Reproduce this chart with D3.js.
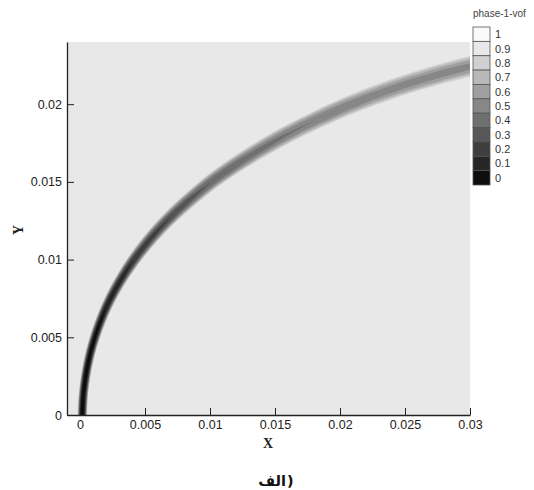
<!DOCTYPE html>
<html>
<head>
<meta charset="utf-8">
<script src="https://cdn.jsdelivr.net/npm/d3@7/dist/d3.min.js"></script>
<style>
body { margin: 0; background: #fff; }
</style>
</head>
<body>
<div id="chart"></div>
<script>
// interface centre line (m)
var curveX = [0.00018, 0.00023, 0.00035, 0.00054, 0.0008, 0.00114, 0.00156, 0.00206, 0.00266, 0.00336,
              0.00416, 0.00508, 0.00612, 0.0073, 0.00864, 0.0101, 0.0118, 0.0137, 0.0158, 0.0182,
              0.0209, 0.0241, 0.0280, 0.0306];
var curveY = [0, 0.001, 0.002, 0.003, 0.004, 0.005, 0.006, 0.007, 0.008, 0.009,
              0.010, 0.011, 0.012, 0.013, 0.014, 0.015, 0.016, 0.017, 0.018, 0.019,
              0.020, 0.021, 0.022, 0.02255];
// lowest vof in the middle of the band, and band thickness (m)
var coreVof = [0, 0, 0, 0.01, 0.03, 0.05, 0.07, 0.10, 0.13, 0.16,
               0.20, 0.24, 0.28, 0.32, 0.36, 0.40, 0.43, 0.46, 0.49, 0.51,
               0.53, 0.55, 0.56, 0.57];
var bandWidth = [0.0007, 0.0007, 0.0007, 0.00071, 0.00073, 0.00075, 0.00078, 0.00081, 0.00085, 0.0009,
                 0.00095, 0.001, 0.00105, 0.0011, 0.00115, 0.0012, 0.00125, 0.0013, 0.00135, 0.0014,
                 0.00146, 0.00152, 0.00158, 0.00162];

var xTicks = [0, 0.005, 0.01, 0.015, 0.02, 0.025, 0.03];
var yTicks = [0, 0.005, 0.01, 0.015, 0.02];
var levels = [0, 0.1, 0.2, 0.3, 0.4, 0.5, 0.6, 0.7, 0.8, 0.9, 1];
var legendLabels = ["1", "0.9", "0.8", "0.7", "0.6", "0.5", "0.4", "0.3", "0.2", "0.1", "0"];
var legendTitle = "phase-1-vof";
var caption = "الف)";

class VofPlotBuilder {
	constructor(sel){
		this.svg = d3.select(sel).append("svg")
					.attr("width", 534)
					.attr("height", 490);
		this.left = 67;
		this.right = 470;
		this.top = 42;
		this.bottom = 415;
		this.profilePower = 2;
		this.x = d3.scaleLinear().domain([-0.001, 0.03]).range([this.left, this.right]);
		this.y = d3.scaleLinear().domain([0, 0.024]).range([this.bottom, this.top]);
		this.shade = d3.scaleLinear().domain([0, 0.9]).range(["#0e0e0e", "#e8e8e8"]).clamp(true);
	}

	drawField(){
		var defs = this.svg.append("defs");
		defs.append("clipPath").attr("id", "plotClip")
			.append("rect")
			.attr("x", this.left).attr("y", this.top)
			.attr("width", this.right - this.left).attr("height", this.bottom - this.top);
		defs.append("filter").attr("id", "soft")
			.attr("x", "-5%").attr("y", "-5%").attr("width", "110%").attr("height", "110%")
			.append("feGaussianBlur").attr("stdDeviation", 0.7);

		this.svg.append("rect")
			.attr("x", this.left).attr("y", this.top)
			.attr("width", this.right - this.left).attr("height", this.bottom - this.top)
			.attr("fill", this.shade(0.9));

		var g = this.svg.append("g").attr("clip-path", "url(#plotClip)")
					.append("g").attr("filter", "url(#soft)");

		var pts = curveX.map((d, i) => [this.x(d), this.y(curveY[i])]);
		var pxPerM = ((this.x(0.001) - this.x(0)) + (this.y(0) - this.y(0.001))) / 2 / 0.001;
		var normals = pts.map((p, i) => {
			var a = pts[Math.max(i - 1, 0)], b = pts[Math.min(i + 1, pts.length - 1)];
			var dx = b[0] - a[0], dy = b[1] - a[1], len = Math.hypot(dx, dy);
			return [-dy / len, dx / len];
		});
		var line = d3.line().curve(d3.curveCatmullRom);

		// paint light levels first, darker ones on top
		for(let k = levels.length - 3; k >= 0; --k){
			var upper = levels[k + 1];
			var half = pts.map((p, i) => {
				var c = coreVof[i];
				if(upper <= c) return 0;
				var t = Math.pow((upper - c) / (1 - c), 1 / this.profilePower);
				return t * bandWidth[i] * pxPerM / 2;
			});
			var side1 = pts.map((p, i) => [p[0] + normals[i][0] * half[i], p[1] + normals[i][1] * half[i]]);
			var side2 = pts.map((p, i) => [p[0] - normals[i][0] * half[i], p[1] - normals[i][1] * half[i]]).reverse();
			g.append("path")
				.attr("d", line(side1) + line(side2).replace(/^M/, "L") + "Z")
				.attr("fill", this.shade(levels[k]));
		}
	}

	drawAxes(){
		var font = "'Liberation Sans', Arial, sans-serif";
		var minorX = d3.range(-1, 31).map(i => i / 1000);
		var minorY = d3.range(0, 25).map(i => i / 1000);

		var gx = this.svg.append("g").attr("transform", "translate(0," + this.bottom + ")");
		gx.call(d3.axisBottom(this.x).tickValues(minorX).tickSize(-3.5).tickSizeOuter(0).tickFormat(""));
		gx.call(d3.axisBottom(this.x).tickValues(xTicks).tickSize(-7).tickSizeOuter(0)
				.tickPadding(5).tickFormat(d => d));

		var gy = this.svg.append("g").attr("transform", "translate(" + this.left + ",0)");
		gy.call(d3.axisLeft(this.y).tickValues(minorY).tickSize(-4).tickSizeOuter(0).tickFormat(""));
		gy.call(d3.axisLeft(this.y).tickValues(yTicks).tickSize(-7).tickSizeOuter(0)
				.tickPadding(5).tickFormat(d => d));

		this.svg.selectAll(".domain").attr("stroke", "#222").attr("stroke-width", 1.3);
		this.svg.selectAll(".tick line").attr("stroke", "#222").attr("stroke-width", 1);
		this.svg.selectAll(".tick text")
			.attr("font-family", font).attr("font-size", 12.5).attr("fill", "#222");

		this.svg.append("text")
			.attr("x", 268).attr("y", 448)
			.attr("text-anchor", "middle")
			.attr("font-family", "'Liberation Serif', 'Times New Roman', serif")
			.attr("font-weight", "bold").attr("font-size", 14).attr("fill", "#222")
			.text("X");
		this.svg.append("text")
			.attr("transform", "translate(23,230) rotate(-90)")
			.attr("text-anchor", "middle")
			.attr("font-family", "'Liberation Serif', 'Times New Roman', serif")
			.attr("font-weight", "bold").attr("font-size", 14).attr("fill", "#222")
			.text("Y");

		// caption: word and bracket set apart so the bracket stays on the right
		var word = caption.slice(0, -1), bracket = caption.slice(-1);
		var cap = this.svg.append("g")
			.attr("font-family", "'DejaVu Sans', sans-serif")
			.attr("font-weight", "bold").attr("font-size", 14.5).attr("fill", "#111");
		var wt = cap.append("text").attr("x", 0).attr("y", 486).text(word);
		var bt = cap.append("text").attr("x", 0).attr("y", 486).text(bracket);
		var wb = wt.node().getBBox(), bb = bt.node().getBBox();
		var startX = 276 - (wb.width + bb.width + 1) / 2;
		wt.attr("x", startX - wb.x);
		bt.attr("x", startX + wb.width + 1 - bb.x);
	}

	drawLegend(){
		var font = "'Liberation Sans', Arial, sans-serif";
		var band = d3.scaleBand().domain(legendLabels).range([27, 185]);
		var lg = this.svg.append("g");
		lg.append("text")
			.attr("x", 473).attr("y", 17)
			.attr("font-family", font).attr("font-size", 10).attr("fill", "#444")
			.text(legendTitle);
		lg.selectAll("rect").data(legendLabels).enter().append("rect")
			.attr("x", 473).attr("y", d => band(d))
			.attr("width", 17).attr("height", band.bandwidth())
			.attr("fill", d => +d >= 1 ? "#fafafa" : this.shade(+d))
			.attr("stroke", "#555").attr("stroke-width", 0.8);
		lg.selectAll("text.lab").data(legendLabels).enter().append("text")
			.attr("class", "lab")
			.attr("x", 495).attr("y", d => band(d) + band.bandwidth() / 2 + 4)
			.attr("font-family", font).attr("font-size", 11).attr("fill", "#333")
			.text(d => d);
	}
}

var builder = new VofPlotBuilder("#chart");
builder.drawField();
builder.drawAxes();
builder.drawLegend();
</script>
</body>
</html>
